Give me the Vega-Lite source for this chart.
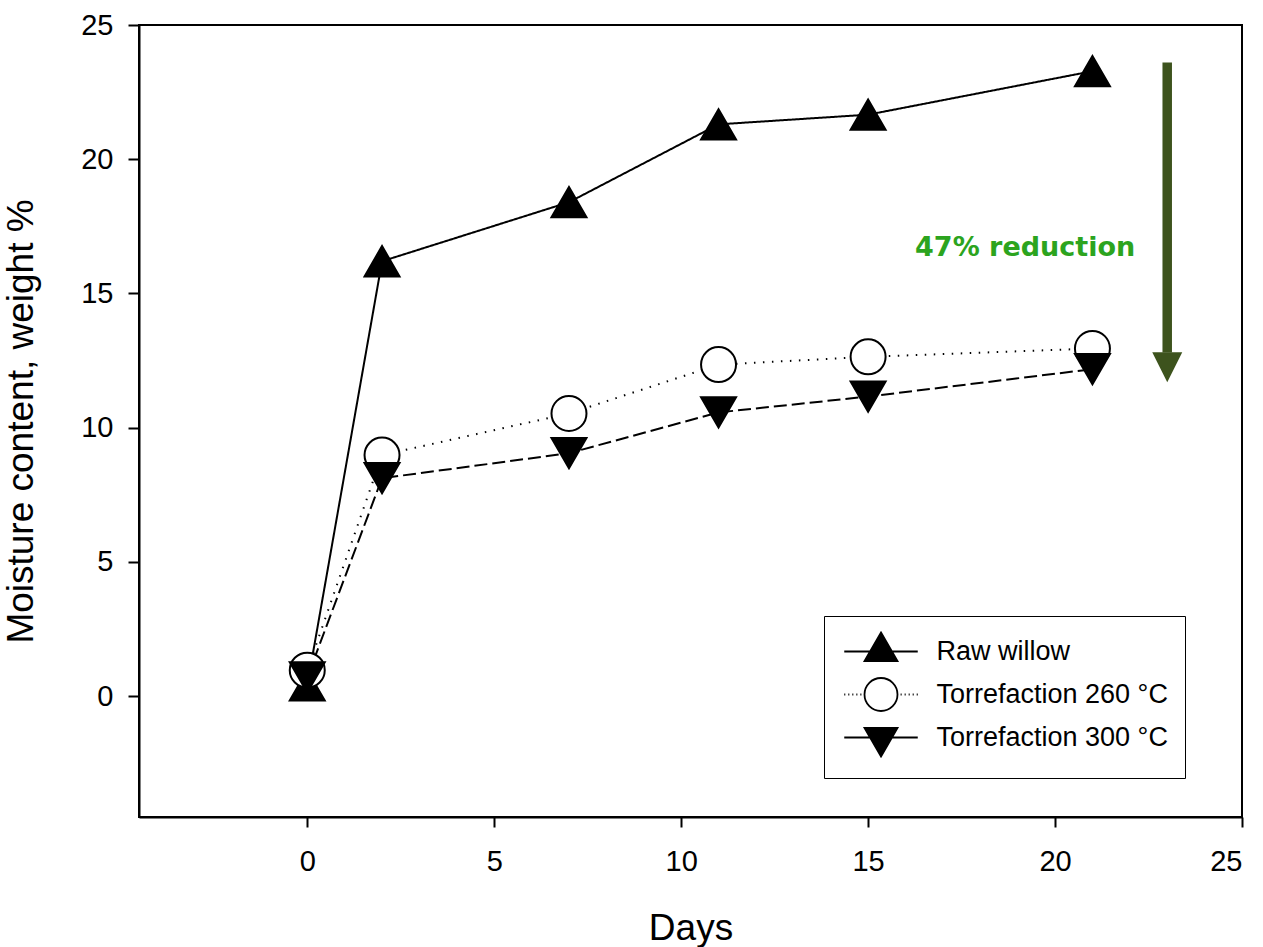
{
  "$schema": "https://vega.github.io/schema/vega-lite/v6.json",
  "autosize": "none",
  "padding": {"left": 139, "top": 25, "right": 21, "bottom": 130},
  "width": 1103,
  "height": 792,
  "background": "white",
  "config": {
    "view": {"stroke": "black", "strokeWidth": 2},
    "axis": {
      "grid": false,
      "domainColor": "black",
      "domainWidth": 2,
      "tickColor": "black",
      "tickWidth": 2,
      "labelFont": "Liberation Sans",
      "labelColor": "black",
      "labelFontSize": 29,
      "titleFont": "Liberation Sans",
      "titleFontSize": 37,
      "titleFontWeight": "normal",
      "titleColor": "black"
    }
  },
  "datasets": {
    "series": [
      {"series": "Raw willow", "day": 0, "mc": 0.4},
      {"series": "Raw willow", "day": 2, "mc": 16.2},
      {"series": "Raw willow", "day": 7, "mc": 18.4},
      {"series": "Raw willow", "day": 11, "mc": 21.3},
      {"series": "Raw willow", "day": 15, "mc": 21.66},
      {"series": "Raw willow", "day": 21, "mc": 23.28},
      {"series": "Torrefaction 260 °C", "day": 0, "mc": 0.97},
      {"series": "Torrefaction 260 °C", "day": 2, "mc": 8.98},
      {"series": "Torrefaction 260 °C", "day": 7, "mc": 10.53},
      {"series": "Torrefaction 260 °C", "day": 11, "mc": 12.35},
      {"series": "Torrefaction 260 °C", "day": 15, "mc": 12.64},
      {"series": "Torrefaction 260 °C", "day": 21, "mc": 12.95},
      {"series": "Torrefaction 300 °C", "day": 0, "mc": 0.7},
      {"series": "Torrefaction 300 °C", "day": 2, "mc": 8.12},
      {"series": "Torrefaction 300 °C", "day": 7, "mc": 9.05},
      {"series": "Torrefaction 300 °C", "day": 11, "mc": 10.57},
      {"series": "Torrefaction 300 °C", "day": 15, "mc": 11.16},
      {"series": "Torrefaction 300 °C", "day": 21, "mc": 12.18}
    ],
    "note": [{"day": 19.2, "mc": 16.69, "label": "47% reduction"}],
    "arrow": [{"day": 23, "mc": 23.6, "mc2": 12.8}],
    "arrowhead": [{"day": 23, "mc": 12.25}]
  },
  "layer": [
    {
      "data": {"name": "series"},
      "mark": {"type": "line", "color": "black", "strokeWidth": 2},
      "encoding": {
        "x": {"field": "day", "type": "quantitative",
          "scale": {"domain": [-4.5, 25], "nice": false, "zero": false},
          "axis": {"values": [0, 5, 10, 15, 20, 25], "tickSize": 10, "labelPadding": 20, "title": "Days", "titlePadding": 34}},
        "y": {"field": "mc", "type": "quantitative",
          "scale": {"domain": [-4.5, 25], "nice": false, "zero": false},
          "axis": {"values": [0, 5, 10, 15, 20, 25], "tickSize": 11, "labelPadding": 15, "title": "Moisture content, weight %", "titlePadding": 40}},
        "detail": {"field": "series"},
        "strokeDash": {
          "condition": [
            {"test": "datum.series === 'Torrefaction 260 °C'", "value": [1.5, 7.5]},
            {"test": "datum.series === 'Torrefaction 300 °C'", "value": [13, 5]}
          ],
          "value": [1, 0]
        }
      }
    },
    {
      "data": {"name": "series"},
      "mark": {"type": "point", "filled": true, "size": 1225, "stroke": "black", "strokeWidth": 2, "opacity": 1},
      "encoding": {
        "x": {"field": "day", "type": "quantitative"},
        "y": {"field": "mc", "type": "quantitative"},
        "shape": {
          "condition": [
            {"test": "datum.series === 'Raw willow'", "value": "triangle-up"},
            {"test": "datum.series === 'Torrefaction 300 °C'", "value": "triangle-down"}
          ],
          "value": "circle"
        },
        "fill": {
          "condition": {"test": "datum.series === 'Torrefaction 260 °C'", "value": "white"},
          "value": "black"
        }
      }
    },
    {
      "data": {"name": "series"},
      "mark": {"type": "point", "filled": true, "size": 1225, "strokeWidth": 1.8, "opacity": 0},
      "encoding": {
        "x": {"field": "day", "type": "quantitative"},
        "y": {"field": "mc", "type": "quantitative"},
        "shape": {"field": "series", "type": "nominal",
          "scale": {"domain": ["Raw willow", "Torrefaction 260 °C", "Torrefaction 300 °C"],
            "range": [
              "M0,-1.1M0,1.1M-2.1,0H2.1M0,-1.089L0.943,0.544L-0.943,0.544Z",
              "M0,-1.1M0,1.1M-2.1,0H-2.04M-1.87,0H-1.81M-1.64,0H-1.58M-1.41,0H-1.35M-1.18,0H-1.12M1.12,0H1.18M1.35,0H1.41M1.58,0H1.64M1.81,0H1.87M2.04,0H2.1M0.943,0A0.943,0.943,0,1,1,-0.943,0A0.943,0.943,0,1,1,0.943,0Z",
              "M0,-1.1M0,1.1M-2.1,0H2.1M0,1.089L0.943,-0.544L-0.943,-0.544Z"
            ]},
          "legend": {
            "orient": "none", "legendX": 685, "legendY": 591, "title": null,
            "padding": 17, "symbolSize": 1225, "symbolOffset": 21.5, "rowPadding": -4, "labelOffset": 37,
            "symbolOpacity": 1, "symbolStrokeWidth": 1.8,
            "labelFontSize": 27, "labelFont": "Liberation Sans", "labelColor": "black", "labelLimit": 500,
            "fillColor": "white", "strokeColor": "black"
          }},
        "fill": {"field": "series", "type": "nominal",
          "scale": {"domain": ["Raw willow", "Torrefaction 260 °C", "Torrefaction 300 °C"], "range": ["black", "white", "black"]},
          "legend": {
            "orient": "none", "legendX": 685, "legendY": 591, "title": null,
            "padding": 17, "symbolSize": 1225, "symbolOffset": 21.5, "rowPadding": -4, "labelOffset": 37,
            "symbolOpacity": 1, "symbolStrokeWidth": 1.8,
            "labelFontSize": 27, "labelFont": "Liberation Sans", "labelColor": "black", "labelLimit": 500,
            "fillColor": "white", "strokeColor": "black"
          }},
        "stroke": {"field": "series", "type": "nominal",
          "scale": {"domain": ["Raw willow", "Torrefaction 260 °C", "Torrefaction 300 °C"], "range": ["black", "black", "black"]},
          "legend": {
            "orient": "none", "legendX": 685, "legendY": 591, "title": null,
            "padding": 17, "symbolSize": 1225, "symbolOffset": 21.5, "rowPadding": -4, "labelOffset": 37,
            "symbolOpacity": 1, "symbolStrokeWidth": 1.8,
            "labelFontSize": 27, "labelFont": "Liberation Sans", "labelColor": "black", "labelLimit": 500,
            "fillColor": "white", "strokeColor": "black"
          }}
      }
    },
    {
      "data": {"name": "arrow"},
      "mark": {"type": "rule", "color": "#3d531d", "strokeWidth": 9.5, "strokeCap": "butt"},
      "encoding": {
        "x": {"field": "day", "type": "quantitative"},
        "y": {"field": "mc", "type": "quantitative"},
        "y2": {"field": "mc2"}
      }
    },
    {
      "data": {"name": "arrowhead"},
      "mark": {"type": "point", "filled": true, "shape": "M-1,-1L1,-1L0,1Z", "size": 900, "color": "#3d531d", "opacity": 1},
      "encoding": {
        "x": {"field": "day", "type": "quantitative"},
        "y": {"field": "mc", "type": "quantitative"}
      }
    },
    {
      "data": {"name": "note"},
      "mark": {"type": "text", "font": "DejaVu Sans", "fontWeight": "bold", "fontSize": 27, "color": "#2ca41e", "align": "center", "baseline": "middle"},
      "encoding": {
        "x": {"field": "day", "type": "quantitative"},
        "y": {"field": "mc", "type": "quantitative"},
        "text": {"field": "label"}
      }
    }
  ]
}
